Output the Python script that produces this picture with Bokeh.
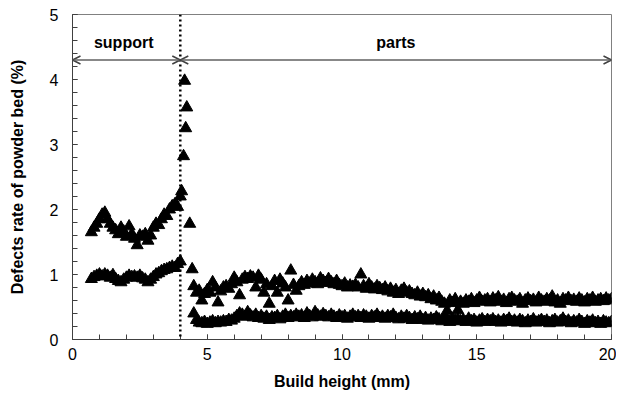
from bokeh.plotting import figure
from bokeh.models import FixedTicker, Arrow, OpenHead, Span, Label
from bokeh.embed import file_html
from bokeh.resources import INLINE

# ---- data ----
sup_x = [0.7, 0.8, 0.9, 1.0, 1.1, 1.2, 1.3, 1.4, 1.5, 1.6, 1.7, 1.8, 1.9, 2.0, 2.1, 2.2, 2.3,
         2.4, 2.5, 2.6, 2.7, 2.8, 2.9, 3.0, 3.1, 3.2, 3.3, 3.4, 3.5, 3.6, 3.7, 3.8, 3.9, 4.0]
sup_upper = [1.65, 1.72, 1.78, 1.85, 1.92, 1.95, 1.85, 1.78, 1.72, 1.68, 1.62, 1.72, 1.66, 1.58,
             1.74, 1.62, 1.55, 1.45, 1.6, 1.58, 1.62, 1.52, 1.6, 1.72, 1.78, 1.76, 1.85, 1.92,
             1.9, 2.0, 2.05, 2.08, 2.04, 2.2]
sup_lower = [0.93, 0.96, 0.98, 1.0, 0.97, 1.0, 0.98, 0.95, 0.99, 0.93, 0.9, 0.88, 0.92, 0.95,
             0.98, 0.96, 0.97, 0.95, 0.98, 0.94, 0.92, 0.88, 0.92, 0.96, 1.0, 1.02, 1.05, 1.07,
             1.08, 1.1, 1.12, 1.1, 1.16, 1.2]

trans_x = [4.05, 4.12, 4.16, 4.2, 4.24, 4.35, 4.44]
trans_y = [2.28, 2.82, 3.98, 3.25, 3.57, 1.78, 1.08]

parts_upper = [
    0.82, 0.72, 0.75, 0.6, 0.7, 0.76, 0.72, 0.88, 0.8, 0.57,
    0.74, 0.8, 0.82, 0.78, 0.85, 0.95, 0.88, 0.68, 0.92, 0.96,
    0.93, 0.97, 0.95, 0.8, 0.98, 0.92, 0.72, 0.85, 0.55, 0.82,
    0.9, 0.72, 0.92, 0.86, 0.8, 0.6, 1.06, 0.84, 0.75, 0.82,
    0.88, 0.84, 0.9, 0.86, 0.92, 0.88, 0.85, 0.94, 0.9, 0.87,
    0.93, 0.88, 0.85, 0.9, 0.84, 0.82, 0.86, 0.8, 0.83, 0.81,
    0.84, 0.8, 1.0, 0.82, 0.78, 0.85, 0.8, 0.77, 0.82, 0.79,
    0.76, 0.8, 0.74, 0.78, 0.72, 0.76, 0.7, 0.75, 0.78, 0.72,
    0.74, 0.7, 0.68, 0.72, 0.66, 0.7, 0.65, 0.68, 0.62, 0.66,
    0.6, 0.64, 0.58, 0.55, 0.44, 0.6, 0.56, 0.62, 0.45, 0.58,
    0.55, 0.6, 0.58, 0.62, 0.56, 0.6, 0.64, 0.58, 0.6, 0.62,
    0.57, 0.63, 0.6, 0.65, 0.58, 0.61, 0.56, 0.62, 0.64, 0.6,
    0.58, 0.62, 0.55, 0.6, 0.63, 0.59, 0.61, 0.57, 0.64, 0.6,
    0.58, 0.62, 0.6, 0.66, 0.57, 0.6, 0.55, 0.62, 0.6, 0.64,
    0.59, 0.61, 0.58, 0.63, 0.6, 0.57, 0.62, 0.6, 0.64, 0.58,
    0.6, 0.62, 0.59, 0.63, 0.6, 0.62]
parts_lower = [
    0.4, 0.3, 0.26, 0.25, 0.27, 0.24, 0.26, 0.28, 0.25, 0.27,
    0.26, 0.28, 0.27, 0.3, 0.29, 0.32, 0.36, 0.4, 0.38, 0.35,
    0.42, 0.37, 0.34, 0.38, 0.33, 0.36, 0.32, 0.35, 0.3, 0.34,
    0.33, 0.36, 0.31, 0.35, 0.38, 0.33, 0.36, 0.34, 0.38, 0.35,
    0.37, 0.33, 0.4, 0.36, 0.34, 0.42, 0.37, 0.35, 0.39, 0.36,
    0.34, 0.38, 0.35, 0.33, 0.37, 0.34, 0.36, 0.32, 0.35, 0.38,
    0.34, 0.36, 0.33, 0.37, 0.35, 0.32, 0.36, 0.34, 0.38, 0.33,
    0.35, 0.32, 0.36, 0.34, 0.38, 0.33, 0.31, 0.35, 0.32, 0.36,
    0.33, 0.3, 0.34, 0.31, 0.35, 0.3, 0.33, 0.29, 0.32, 0.3,
    0.34, 0.31, 0.28, 0.33, 0.3, 0.27, 0.32, 0.29, 0.31, 0.28,
    0.3, 0.27, 0.32, 0.28, 0.3, 0.26, 0.29, 0.31, 0.27, 0.3,
    0.28, 0.31, 0.27, 0.29, 0.26, 0.3, 0.28, 0.32, 0.27, 0.29,
    0.26, 0.3, 0.28, 0.25, 0.29, 0.27, 0.31, 0.26, 0.28, 0.3,
    0.27, 0.29, 0.25, 0.28, 0.3, 0.26, 0.28, 0.32, 0.27, 0.29,
    0.25, 0.28, 0.26, 0.3, 0.27, 0.24, 0.28, 0.26, 0.29, 0.25,
    0.27, 0.24, 0.28, 0.26, 0.25, 0.27]
parts_x = [round(4.5 + 0.1 * i, 1) for i in range(len(parts_upper))]

x_major = [0, 5, 10, 15, 20]
y_major = [0, 1, 2, 3, 4, 5]
boundary_x = 4
support_span = (0, 4)
parts_span = (4, 20)
arrow_y = 4.3
label_y = 4.57
support_label_x = 1.9
parts_label_x = 12

FONT = "Liberation Sans"

p = figure(width=616, height=393, x_range=(0, 20), y_range=(0, 5),
           output_backend="svg", toolbar_location=None,
           min_border_left=72, min_border_right=5, min_border_top=14, min_border_bottom=54)
p.xgrid.visible = False
p.ygrid.visible = False
p.outline_line_color = "#808080"
p.outline_line_width = 1

p.xaxis.ticker = FixedTicker(ticks=x_major, minor_ticks=list(range(0, 21)))
p.yaxis.ticker = FixedTicker(ticks=y_major, minor_ticks=[i / 5 for i in range(0, 26)])
for ax in (p.xaxis, p.yaxis):
    ax.axis_line_color = "#404040"
    ax.major_tick_line_color = "#404040"
    ax.minor_tick_line_color = "#404040"
    ax.major_tick_in = 5
    ax.major_tick_out = 0
    ax.minor_tick_in = 5
    ax.minor_tick_out = 0
    ax.major_label_text_font = FONT
    ax.major_label_text_font_size = "16px"
    ax.major_label_text_color = "black"
    ax.axis_label_text_font = FONT
    ax.axis_label_text_font_style = "bold"
    ax.axis_label_text_font_size = "16px"
    ax.axis_label_text_color = "black"
p.xaxis.axis_label = "Build height (mm)"
p.yaxis.axis_label = "Defects rate of powder bed (%)"
p.xaxis.major_label_standoff = 8
p.yaxis.major_label_standoff = 14
p.xaxis.axis_label_standoff = 10
p.yaxis.axis_label_standoff = 21

p.add_layout(Span(location=boundary_x, dimension="height", line_color="black",
                  line_width=2.5, line_dash="2 3"))

for (xs, xe) in (support_span, parts_span):
    p.add_layout(Arrow(x_start=xs, y_start=arrow_y, x_end=xe, y_end=arrow_y,
                       line_color="#606060", line_width=1.5,
                       start=OpenHead(size=8, line_color="#404040", line_width=1.5),
                       end=OpenHead(size=8, line_color="#404040", line_width=1.5)))

for txt, lx in (("support", support_label_x), ("parts", parts_label_x)):
    p.add_layout(Label(x=lx, y=label_y, text=txt, text_align="center", text_baseline="middle",
                       text_font=FONT, text_font_style="bold", text_font_size="16px",
                       text_color="black"))

kw = dict(marker="triangle", size=12, fill_color="black", line_color="black")
p.scatter(sup_x, sup_upper, **kw)
p.scatter(sup_x, sup_lower, **kw)
p.scatter(trans_x, trans_y, **kw)
p.scatter(parts_x, parts_upper, **kw)
p.scatter(parts_x, parts_lower, **kw)

open("out.html", "w").write(file_html(p, INLINE))
